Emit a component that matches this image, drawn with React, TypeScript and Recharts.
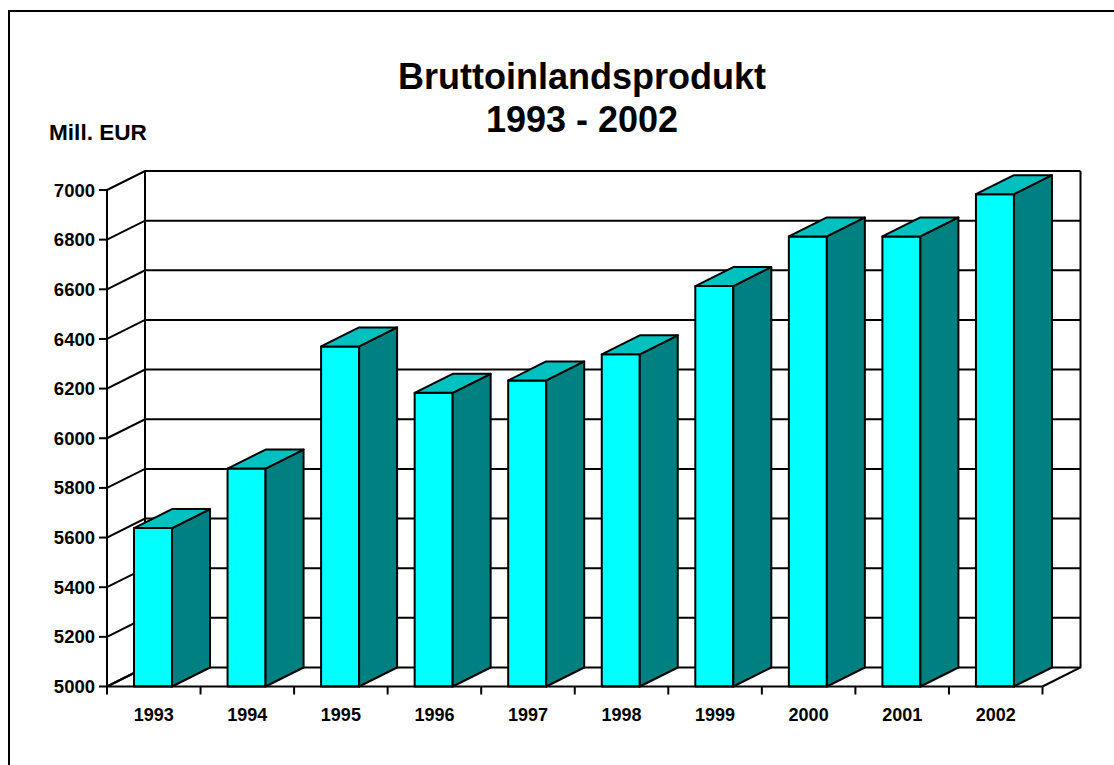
import { Bar, BarChart, CartesianGrid, XAxis, YAxis } from "recharts";

const YEARS = ["1993", "1994", "1995", "1996", "1997", "1998", "1999", "2000", "2001", "2002"];
const GDP = [5638, 5878, 6370, 6183, 6233, 6338, 6613, 6813, 6813, 6983];
const Y_TICKS = [5000, 5200, 5400, 5600, 5800, 6000, 6200, 6400, 6600, 6800, 7000];

const WIDTH = 1114;
const HEIGHT = 765;
const MARGIN = { top: 190, right: 71.5, bottom: 38.5, left: 47 };
const Y_AXIS_WIDTH = 60;
const X_AXIS_HEIGHT = 40;

// 3d depth of the fake perspective
const DX = 38;
const DY = 19;
const BAR_SHIFT = -1;

const PLOT_LEFT = MARGIN.left + Y_AXIS_WIDTH;
const PLOT_RIGHT = WIDTH - MARGIN.right;
const PLOT_TOP = MARGIN.top;
const PLOT_BOTTOM = HEIGHT - MARGIN.bottom - X_AXIS_HEIGHT;
const BAND = (PLOT_RIGHT - PLOT_LEFT) / YEARS.length;

const FONT = '"Liberation Sans", Arial, sans-serif';

const chartData = YEARS.map((year, i) => ({ year, gdp: GDP[i] }));

function WallLine({ x1, y1, x2, y2, index }: any) {
  const line = (
    <path
      d={`M${x1},${y1} L${x1 + DX},${y1 - DY} L${x2 + DX},${y2 - DY}`}
      fill="none"
      stroke="#000"
      strokeWidth={2}
    />
  );
  if (index !== 0) return line;
  // the walls and the floor only need drawing once
  return (
    <g>
      {line}
      <path
        d={`M${PLOT_LEFT + DX},${PLOT_TOP - DY} V${PLOT_BOTTOM - DY} M${PLOT_RIGHT + DX},${PLOT_TOP - DY} V${PLOT_BOTTOM - DY} L${PLOT_RIGHT},${PLOT_BOTTOM} M${PLOT_LEFT},${PLOT_BOTTOM} L${PLOT_LEFT + DX},${PLOT_BOTTOM - DY}`}
        fill="none"
        stroke="#000"
        strokeWidth={2}
      />
    </g>
  );
}

function Bar3D({ x, y, width, height }: any) {
  const left = x + BAR_SHIFT;
  const right = left + width;
  const bottom = y + height;
  return (
    <g stroke="#000" strokeWidth={2} strokeLinejoin="round">
      <rect x={left} y={y} width={width} height={height} fill="#00ffff" />
      <path
        d={`M${right},${y} L${right + DX},${y - DY} V${bottom - DY} L${right},${bottom} Z`}
        fill="#008080"
      />
      <path
        d={`M${left},${y} L${left + DX},${y - DY} H${right + DX} L${right},${y} Z`}
        fill="#00c0c0"
      />
    </g>
  );
}

function YearTick({ x, y, payload, index }: any) {
  const tickTop = PLOT_BOTTOM;
  return (
    <g>
      <path d={`M${x - BAND / 2},${tickTop} v8`} stroke="#000" strokeWidth={2} />
      {index === YEARS.length - 1 ? (
        <path d={`M${x + BAND / 2},${tickTop} v8`} stroke="#000" strokeWidth={2} />
      ) : null}
      <text
        x={x}
        y={y + 26}
        textAnchor="middle"
        fontFamily={FONT}
        fontWeight={700}
        fontSize={18}
        fill="#000"
      >
        {payload.value}
      </text>
    </g>
  );
}

const labelStyle = {
  position: "absolute" as const,
  fontFamily: FONT,
  fontWeight: 700,
  color: "#000",
  whiteSpace: "nowrap" as const,
};

export default function App() {
  return (
    <div
      style={{
        position: "absolute",
        left: 0,
        top: 0,
        width: WIDTH,
        height: HEIGHT,
        background: "#fff",
        overflow: "hidden",
      }}
    >
      <div
        style={{
          position: "absolute",
          left: 8,
          top: 10,
          width: 1200,
          height: 900,
          border: "2px solid #000",
        }}
      />
      <div
        style={{
          ...labelStyle,
          left: 0,
          width: 1164,
          top: 55,
          fontSize: 36,
          lineHeight: "43px",
          textAlign: "center",
        }}
      >
        Bruttoinlandsprodukt
        <br />
        1993 - 2002
      </div>
      <div style={{ ...labelStyle, left: 49, top: 120, fontSize: 22.6, lineHeight: "26px" }}>Mill. EUR</div>
      <div style={{ position: "absolute", left: 0, top: 0 }}>
        <BarChart
          width={WIDTH}
          height={HEIGHT}
          data={chartData}
          margin={MARGIN}
          barSize={38}
        >
          <CartesianGrid
            vertical={false}
            horizontalValues={Y_TICKS}
            horizontal={(props: any) => <WallLine key={props.key} {...props} />}
          />
          <XAxis
            dataKey="year"
            height={X_AXIS_HEIGHT}
            interval={0}
            tickLine={false}
            axisLine={{ stroke: "#000", strokeWidth: 2 }}
            tick={<YearTick />}
          />
          <YAxis
            width={Y_AXIS_WIDTH}
            domain={[5000, 7000]}
            ticks={Y_TICKS}
            interval={0}
            tickSize={8}
            tickMargin={4}
            axisLine={{ stroke: "#000", strokeWidth: 2 }}
            tickLine={{ stroke: "#000", strokeWidth: 2 }}
            tick={{ fontFamily: FONT, fontWeight: 700, fontSize: 18.5, fill: "#000" }}
          />
          <Bar dataKey="gdp" isAnimationActive={false} shape={<Bar3D />} />
        </BarChart>
      </div>
    </div>
  );
}
